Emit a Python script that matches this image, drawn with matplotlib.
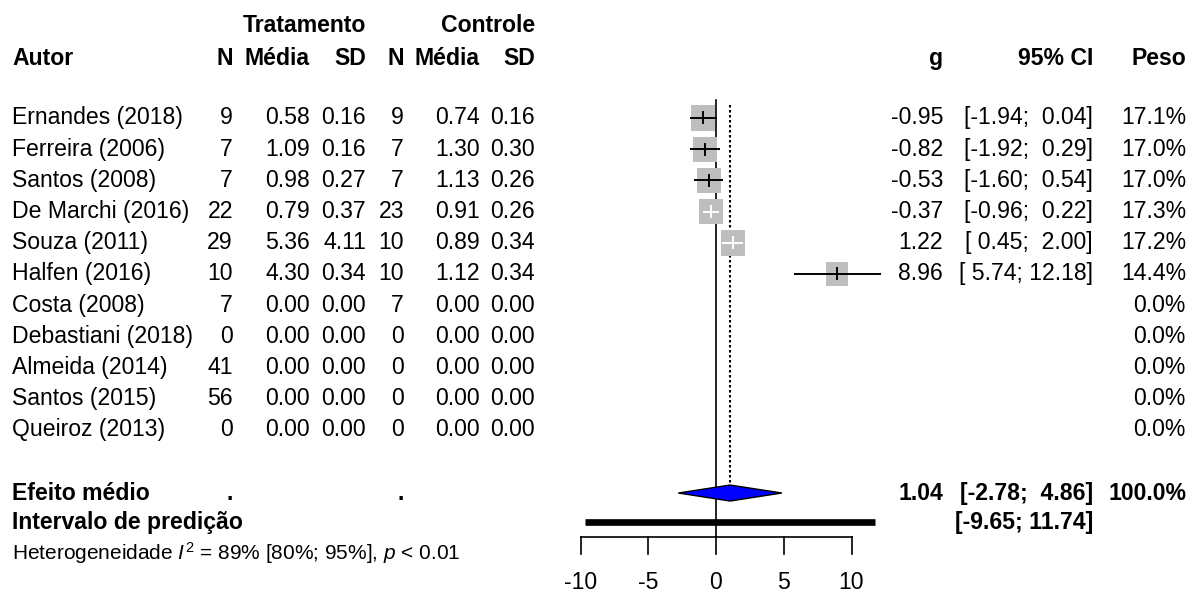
import matplotlib
matplotlib.use("Agg")
import matplotlib.pyplot as plt
from matplotlib.patches import Rectangle, Polygon
import numpy as np

plt.rcParams['font.family'] = ['Liberation Sans', 'DejaVu Sans']
plt.rcParams['mathtext.fontset'] = 'custom'
plt.rcParams['mathtext.rm'] = 'Liberation Sans'
plt.rcParams['mathtext.it'] = 'Liberation Sans:italic'

# ---------------- data ----------------
autores = ["Ernandes (2018)", "Ferreira (2006)", "Santos (2008)", "De Marchi (2016)",
           "Souza (2011)", "Halfen (2016)", "Costa (2008)", "Debastiani (2018)",
           "Almeida (2014)", "Santos (2015)", "Queiroz (2013)"]
n_trat = [9, 7, 7, 22, 29, 10, 7, 0, 41, 56, 0]
media_trat = [0.58, 1.09, 0.98, 0.79, 5.36, 4.30, 0.00, 0.00, 0.00, 0.00, 0.00]
sd_trat = [0.16, 0.16, 0.27, 0.37, 4.11, 0.34, 0.00, 0.00, 0.00, 0.00, 0.00]
n_ctrl = [9, 7, 7, 23, 10, 10, 7, 0, 0, 0, 0]
media_ctrl = [0.74, 1.30, 1.13, 0.91, 0.89, 1.12, 0.00, 0.00, 0.00, 0.00, 0.00]
sd_ctrl = [0.16, 0.30, 0.26, 0.26, 0.34, 0.34, 0.00, 0.00, 0.00, 0.00, 0.00]
g = [-0.95, -0.82, -0.53, -0.37, 1.22, 8.96, None, None, None, None, None]
ci_low = [-1.94, -1.92, -1.60, -0.96, 0.45, 5.74, None, None, None, None, None]
ci_high = [0.04, 0.29, 0.54, 0.22, 2.00, 12.18, None, None, None, None, None]
peso = [17.1, 17.0, 17.0, 17.3, 17.2, 14.4, 0.0, 0.0, 0.0, 0.0, 0.0]

efeito = 1.04
efeito_low = -2.78
efeito_high = 4.86
pred_low = -9.65
pred_high = 11.74
ticks = [-10, -5, 0, 5, 10]
het_text = r"Heterogeneidade $\mathit{I}^{2}$ = 89% [80%; 95%], $\mathit{p}$ < 0.01"

# ---------------- layout ----------------
W, H = 1197, 599
X0PX, XSCALE = 716.0, 13.55      # pixel of x=0 and pixels per unit
Y0PX, YSCALE = 118.0, 31.2       # pixel of row 0 and pixels per row

fig = plt.figure(figsize=(W / 100, H / 100), dpi=100)
ax = fig.add_axes([0, 0, 1, 1])
ax.set_xlim((0 - X0PX) / XSCALE, (W - X0PX) / XSCALE)
ax.set_ylim((H - Y0PX) / YSCALE, (0 - Y0PX) / YSCALE)
ax.axis('off')

tr = ax.get_yaxis_transform()   # x in axes fraction, y in data rows


def fx(px):
    return px / W


def pad5(v):
    s = f"{v:.2f}"
    return s if len(s) >= 5 else " " + s


FS = 16.6
n = len(autores)
rows = np.arange(n)

# headers
ax.text(fx(366), -2.97, "Tratamento", transform=tr, ha='right', va='center', fontsize=FS, fontweight='bold')
ax.text(fx(535), -2.97, "Controle", transform=tr, ha='right', va='center', fontsize=FS, fontweight='bold')
hdr = [("Autor", 12, 'left'), ("N", 233, 'right'), ("Média", 310, 'right'), ("SD", 366, 'right'),
       ("N", 404, 'right'), ("Média", 480, 'right'), ("SD", 535, 'right'),
       ("g", 943, 'right'), ("95% CI", 1093, 'right'), ("Peso", 1186, 'right')]
for t, px, ha in hdr:
    ax.text(fx(px), -1.9, t, transform=tr, ha=ha, va='center', fontsize=FS, fontweight='bold')

# study rows
for i in range(n):
    y = rows[i]
    ax.text(fx(12), y, autores[i], transform=tr, ha='left', va='center', fontsize=FS)
    ax.text(fx(233), y, f"{n_trat[i]}", transform=tr, ha='right', va='center', fontsize=FS)
    ax.text(fx(310), y, f"{media_trat[i]:.2f}", transform=tr, ha='right', va='center', fontsize=FS)
    ax.text(fx(366), y, f"{sd_trat[i]:.2f}", transform=tr, ha='right', va='center', fontsize=FS)
    ax.text(fx(404), y, f"{n_ctrl[i]}", transform=tr, ha='right', va='center', fontsize=FS)
    ax.text(fx(480), y, f"{media_ctrl[i]:.2f}", transform=tr, ha='right', va='center', fontsize=FS)
    ax.text(fx(535), y, f"{sd_ctrl[i]:.2f}", transform=tr, ha='right', va='center', fontsize=FS)
    ax.text(fx(1186), y, f"{peso[i]:.1f}%", transform=tr, ha='right', va='center', fontsize=FS)
    if g[i] is not None:
        ax.text(fx(943), y, f"{g[i]:.2f}", transform=tr, ha='right', va='center', fontsize=FS)
        ax.text(fx(1093), y, f"[{pad5(ci_low[i])}; {pad5(ci_high[i])}]", transform=tr,
                ha='right', va='center', fontsize=FS)

        # square (area proportional to weight)
        wpx = 5.8 * np.sqrt(peso[i])
        hpx = 1.06 * wpx
        wd, hd = wpx / XSCALE, hpx / YSCALE
        ax.add_patch(Rectangle((g[i] - wd / 2, y - hd / 2), wd, hd, facecolor='#BEBEBE',
                               edgecolor='none', zorder=3))
        inside = (ci_low[i] >= g[i] - wd / 2) and (ci_high[i] <= g[i] + wd / 2)
        lc = 'white' if inside else 'black'
        ax.plot([ci_low[i], ci_high[i]], [y, y], color=lc, lw=1.4, zorder=4, solid_capstyle='butt')
        ax.plot([g[i], g[i]], [y - 5.5 / YSCALE, y + 5.5 / YSCALE], color=lc, lw=1.4, zorder=4)

# summary rows
ys, yp, yh = 12.02, 12.95, 13.94
ax.text(fx(12), ys, "Efeito médio", transform=tr, ha='left', va='center', fontsize=FS, fontweight='bold')
ax.text(fx(233), ys, ".", transform=tr, ha='right', va='center', fontsize=FS, fontweight='bold')
ax.text(fx(404), ys, ".", transform=tr, ha='right', va='center', fontsize=FS, fontweight='bold')
ax.text(fx(943), ys, f"{efeito:.2f}", transform=tr, ha='right', va='center', fontsize=FS, fontweight='bold')
ax.text(fx(1093), ys, f"[{pad5(efeito_low)}; {pad5(efeito_high)}]", transform=tr, ha='right', va='center',
        fontsize=FS, fontweight='bold')
ax.text(fx(1186), ys, "100.0%", transform=tr, ha='right', va='center', fontsize=FS, fontweight='bold')
ax.text(fx(12), yp, "Intervalo de predição", transform=tr, ha='left', va='center', fontsize=FS, fontweight='bold')
ax.text(fx(1093), yp, f"[{pad5(pred_low)}; {pad5(pred_high)}]", transform=tr, ha='right', va='center',
        fontsize=FS, fontweight='bold')
ax.text(fx(12), yh, het_text, transform=tr, ha='left', va='center', fontsize=15.0)

# diamond
dh = 8 / YSCALE
ax.add_patch(Polygon([(efeito_low, ys), (efeito, ys - dh), (efeito_high, ys), (efeito, ys + dh)],
                     closed=True, facecolor='#0000FF', edgecolor='black', lw=1.0, zorder=4))
# prediction interval bar
ax.plot([pred_low, pred_high], [yp, yp], color='black', lw=4.8, solid_capstyle='butt', zorder=4)

# reference lines
y_axis = 13.43
ax.plot([0, 0], [-0.58, y_axis], color='black', lw=1.2, zorder=2)
ax.plot([efeito, efeito], [-0.42, ys - dh], color='black', lw=1.5, ls=(0, (1.2, 1.2)), zorder=2)

# x axis
ax.plot([ticks[0], ticks[-1]], [y_axis, y_axis], color='black', lw=1.2)
for t in ticks:
    ax.plot([t, t], [y_axis, y_axis + 17 / YSCALE], color='black', lw=1.2)
    ax.text(t, 14.9, f"{t}", ha='center', va='center', fontsize=FS)

fig.savefig("out.png", dpi=100)
